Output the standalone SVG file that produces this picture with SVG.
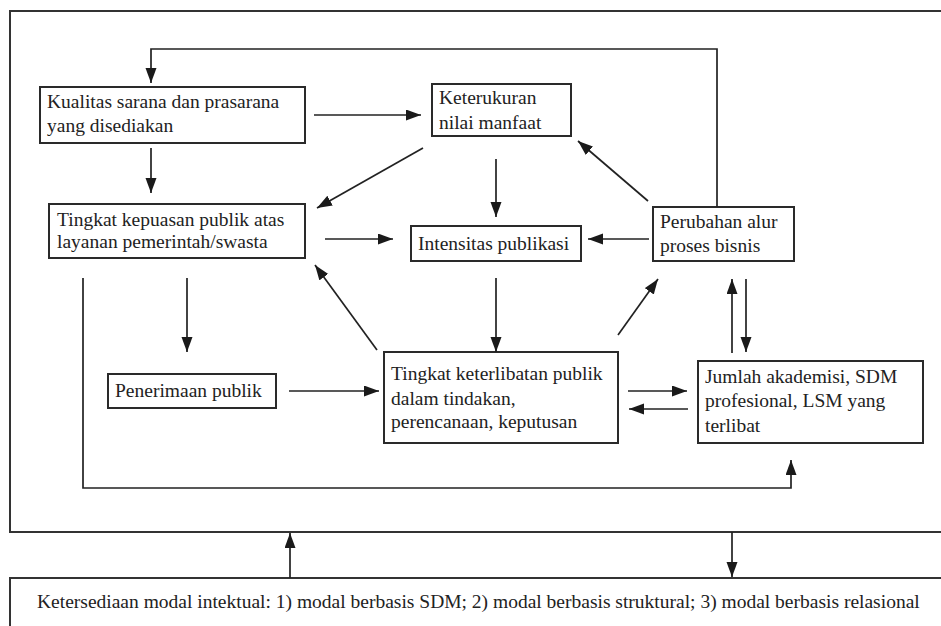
<svg xmlns="http://www.w3.org/2000/svg" width="941" height="626" viewBox="0 0 941 626">
<defs>
<marker id="ah" markerUnits="userSpaceOnUse" markerWidth="17" markerHeight="12" refX="15" refY="5.5" orient="auto">
<path d="M0,0 L15,5.5 L0,11 z" fill="#1a1a1a"/>
</marker>
<style>
.box{fill:#fff;stroke:#2a2a2a;stroke-width:2}
.frame{fill:none;stroke:#333;stroke-width:2}
.t{font-family:"Liberation Serif","Times New Roman",serif;font-size:19.5px;fill:#222}
.c{fill:none;stroke:#222;stroke-width:1.6}
.ca{fill:none;stroke:#222;stroke-width:1.7;marker-end:url(#ah)}
</style>
</defs>
<rect width="941" height="626" fill="#fff"/>
<rect class="frame" x="10" y="11" width="960" height="521"/>
<g id="bottom">
<rect class="frame" x="10" y="578" width="960" height="80"/>
<text class="t" x="37" y="608">Ketersediaan modal intektual: 1) modal berbasis SDM; 2) modal berbasis struktural; 3) modal berbasis relasional</text>
</g>
<g id="kualitas">
<rect class="box" x="40" y="87" width="265" height="56"/>
<text class="t" x="47" y="108">Kualitas sarana dan prasarana</text>
<text class="t" x="47" y="132">yang disediakan</text>
</g>
<g id="kepuasan">
<rect class="box" x="49" y="204" width="256" height="54"/>
<text class="t" x="57" y="226">Tingkat kepuasan publik atas</text>
<text class="t" x="57" y="248">layanan pemerintah/swasta</text>
</g>
<g id="keterukuran">
<rect class="box" x="432" y="84" width="139" height="52"/>
<text class="t" x="439" y="104">Keterukuran</text>
<text class="t" x="439" y="129">nilai manfaat</text>
</g>
<g id="intensitas">
<rect class="box" x="411" y="226" width="170" height="35"/>
<text class="t" x="418" y="250">Intensitas publikasi</text>
</g>
<g id="perubahan">
<rect class="box" x="653" y="207" width="141" height="54"/>
<text class="t" x="660" y="228">Perubahan alur</text>
<text class="t" x="660" y="252">proses bisnis</text>
</g>
<g id="penerimaan">
<rect class="box" x="108" y="374" width="168" height="34"/>
<text class="t" x="115" y="397">Penerimaan publik</text>
</g>
<g id="keterlibatan">
<rect class="box" x="384" y="352" width="234" height="91"/>
<text class="t" x="391" y="380">Tingkat keterlibatan publik</text>
<text class="t" x="391" y="405">dalam tindakan,</text>
<text class="t" x="391" y="428">perencanaan, keputusan</text>
</g>
<g id="jumlah">
<rect class="box" x="698" y="361" width="225" height="82"/>
<text class="t" x="705" y="383">Jumlah akademisi, SDM</text>
<text class="t" x="705" y="407">profesional, LSM yang</text>
<text class="t" x="705" y="432">terlibat</text>
</g>
<g id="connectors">
<path class="ca" d="M717,207 L717,49 L151,49 L151,83"/>
<path class="ca" d="M314,115 L421,115"/>
<path class="ca" d="M151,148 L151,193"/>
<path class="ca" d="M423,148 L317,208"/>
<path class="ca" d="M325,239 L393,239"/>
<path class="ca" d="M377,350 L315,265"/>
<path class="ca" d="M83,278 L83,488 L791,488 L791,460"/>
<path class="ca" d="M187,278 L187,352"/>
<path class="ca" d="M496,159 L496,217"/>
<path class="ca" d="M649,239 L588,239"/>
<path class="ca" d="M648,201 L578,141"/>
<path class="ca" d="M496,278 L496,352"/>
<path class="ca" d="M618,335 L658,279"/>
<path class="ca" d="M732,353 L732,279"/>
<path class="ca" d="M746,279 L746,352"/>
<path class="ca" d="M289,391 L379,391"/>
<path class="ca" d="M628,391 L687,391"/>
<path class="ca" d="M688,409 L629,409"/>
<path class="ca" d="M290,578 L290,533"/>
<path class="ca" d="M732,532 L732,577"/>
</g>
</svg>
